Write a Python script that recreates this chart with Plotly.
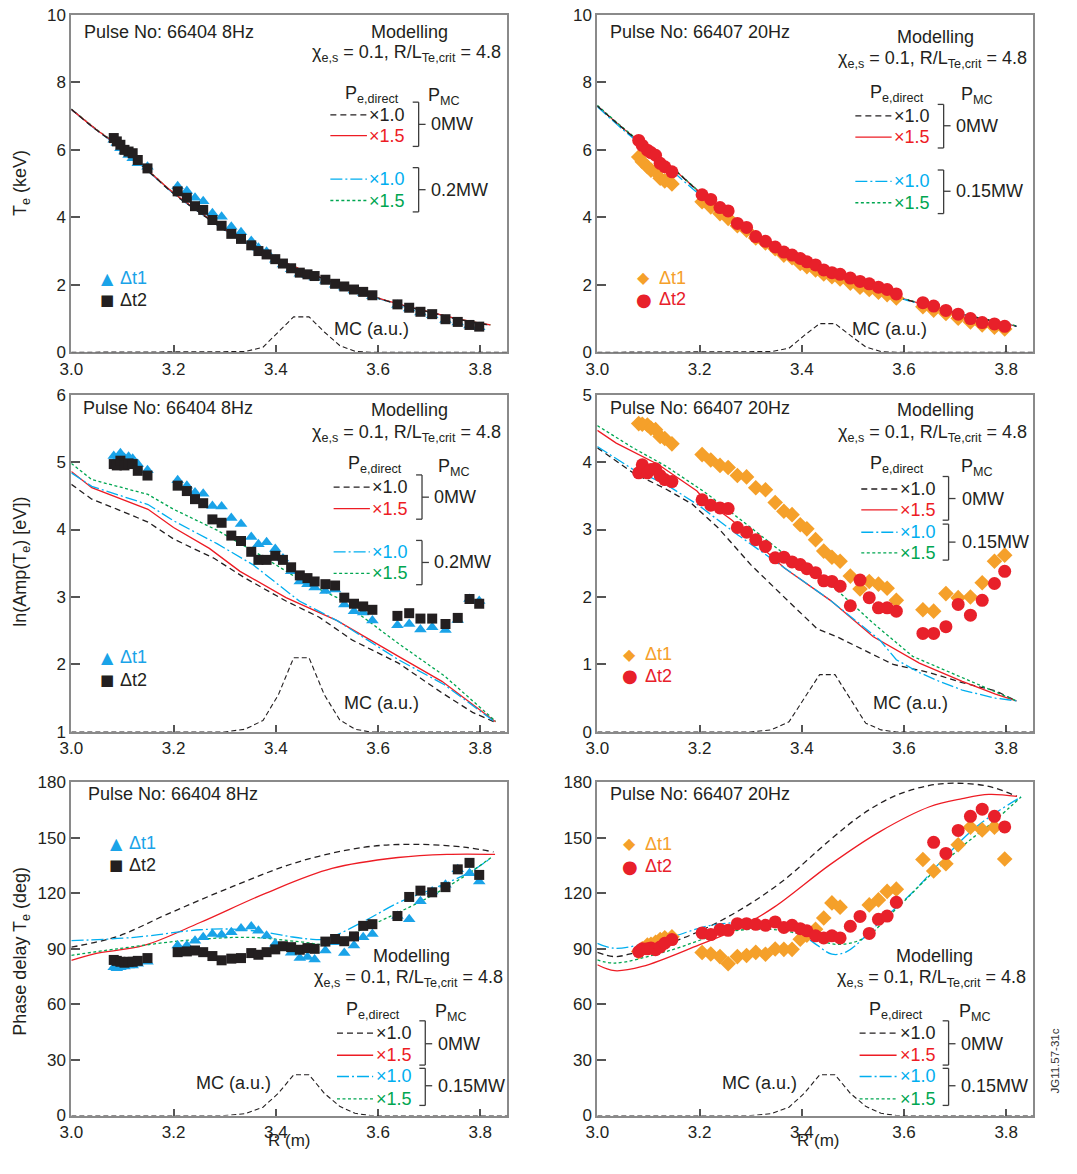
import plotly.graph_objects as go

FONT = "Liberation Sans, Arial, Helvetica, sans-serif"
INK = "#231f20"
BLUE_PTS = "#1aa3e8"
BLACK_PTS = "#231f20"
ORANGE_PTS = "#f5a02a"
RED_PTS = "#e8202a"
RED_LINE = "#ed1c24"
CYAN_LINE = "#00aeef"
GREEN_LINE = "#00a651"

# ---------------- measurement channels (major radius, m) ----------------
R_66404 = [3.083, 3.089, 3.096, 3.104, 3.112, 3.12, 3.13, 3.149, 3.208, 3.226, 3.242, 3.258, 3.276,
           3.294, 3.313, 3.332, 3.352, 3.366, 3.382, 3.399, 3.414, 3.43, 3.447, 3.462, 3.476, 3.497,
           3.516, 3.534, 3.553, 3.571, 3.589, 3.638, 3.661, 3.683, 3.706, 3.732, 3.756, 3.779, 3.798]
R_66407 = [3.081, 3.088, 3.098, 3.105, 3.114, 3.123, 3.132, 3.146, 3.205, 3.222, 3.24, 3.256, 3.274,
           3.292, 3.31, 3.329, 3.348, 3.365, 3.381, 3.397, 3.41, 3.427, 3.443, 3.459, 3.475, 3.495,
           3.514, 3.532, 3.55, 3.567, 3.585, 3.637, 3.658, 3.682, 3.706, 3.73, 3.753, 3.777, 3.797]

# ---------------- Te profiles (keV) ----------------
te_66404_dt1 = [6.3, 6.2, 6.05, 5.95, 5.85, 5.75, 5.6, 5.5, 4.92, 4.78, 4.58, 4.48, 4.12, 4.02, 3.72, 3.56,
                3.3, 3.1, 2.98, 2.74, 2.6, 2.46, 2.33, 2.28, 2.22, 2.12, 2.0, 1.92, 1.83, 1.76, 1.66,
                1.4, 1.3, 1.18, 1.1, 0.96, 0.88, 0.79, 0.74]
te_66404_dt2 = [6.35, 6.25, 6.15, 6.0, 5.95, 5.9, 5.7, 5.45, 4.77, 4.58, 4.33, 4.22, 3.92, 3.75, 3.51, 3.36,
                3.17, 3.0, 2.9, 2.76, 2.63, 2.49, 2.36, 2.31, 2.26, 2.15, 2.03, 1.95, 1.86, 1.79, 1.69,
                1.42, 1.32, 1.2, 1.13, 0.98, 0.9, 0.81, 0.76]
te_66407_dt1 = [5.79, 5.65, 5.5, 5.4, 5.35, 5.16, 5.08, 4.99, 4.46, 4.31, 4.11, 3.97, 3.75, 3.62, 3.39, 3.24,
                3.07, 2.88, 2.8, 2.63, 2.54, 2.44, 2.32, 2.24, 2.17, 2.05, 1.93, 1.86, 1.78, 1.71, 1.61,
                1.35, 1.25, 1.15, 1.01, 0.9, 0.81, 0.74, 0.69]
te_66407_dt2 = [6.28, 6.13, 5.99, 5.92, 5.84, 5.6, 5.5, 5.35, 4.67, 4.53, 4.29, 4.19, 3.82, 3.7, 3.43, 3.29,
                3.12, 2.97, 2.88, 2.78, 2.68, 2.59, 2.44, 2.36, 2.31, 2.2, 2.1, 2.03, 1.93, 1.86, 1.73,
                1.47, 1.37, 1.24, 1.13, 1.0, 0.88, 0.84, 0.77]

R_te_model = [3.0, 3.05, 3.1, 3.15, 3.2, 3.25, 3.3, 3.35, 3.4, 3.45, 3.5, 3.55, 3.6, 3.65, 3.7, 3.75, 3.8, 3.82]
te_404_p0_x10 = [7.2, 6.58, 6.03, 5.38, 4.7, 4.15, 3.62, 3.18, 2.78, 2.44, 2.14, 1.87, 1.6, 1.38, 1.19, 1.0, 0.85, 0.81]
te_404_p0_x15 = [7.2, 6.59, 6.04, 5.39, 4.72, 4.17, 3.64, 3.19, 2.79, 2.45, 2.15, 1.88, 1.61, 1.39, 1.2, 1.01, 0.86, 0.81]
te_404_pmc_x10 = [7.2, 6.58, 6.02, 5.37, 4.7, 4.15, 3.62, 3.18, 2.78, 2.44, 2.14, 1.87, 1.6, 1.38, 1.19, 1.0, 0.85, 0.81]
te_404_pmc_x15 = [7.21, 6.6, 6.05, 5.4, 4.72, 4.17, 3.64, 3.19, 2.79, 2.45, 2.15, 1.88, 1.61, 1.39, 1.2, 1.01, 0.86, 0.81]
te_407_p0_x10 = [7.3, 6.64, 6.02, 5.42, 4.74, 4.17, 3.62, 3.18, 2.76, 2.43, 2.12, 1.85, 1.58, 1.37, 1.18, 1.0, 0.85, 0.77]
te_407_p0_x15 = [7.3, 6.64, 6.03, 5.42, 4.75, 4.18, 3.63, 3.18, 2.77, 2.43, 2.12, 1.85, 1.58, 1.37, 1.18, 1.0, 0.85, 0.77]
te_407_pmc_x10 = [7.28, 6.6, 5.98, 5.33, 4.68, 4.14, 3.6, 3.16, 2.75, 2.42, 2.11, 1.84, 1.57, 1.36, 1.17, 0.99, 0.84, 0.77]
te_407_pmc_x15 = [7.32, 6.66, 6.04, 5.43, 4.76, 4.19, 3.64, 3.19, 2.78, 2.44, 2.13, 1.86, 1.59, 1.38, 1.19, 1.01, 0.86, 0.78]

# ---------------- ln(amplitude) profiles ----------------
amp_66404_dt1 = [5.09, 5.05, 5.13, 5.06, 5.08, 5.05, 4.97, 4.88, 4.73, 4.65, 4.55, 4.53, 4.35, 4.34, 4.17, 4.08,
                 3.89, 3.78, 3.81, 3.71, 3.57, 3.38, 3.23, 3.19, 3.14, 3.09, 3.11, 2.89, 2.79, 2.77, 2.65,
                 2.58, 2.6, 2.52, 2.55, 2.51, 2.66, 2.97, 2.94]
amp_66404_dt2 = [4.97, 4.95, 5.02, 4.95, 4.98, 4.97, 4.87, 4.8, 4.65, 4.57, 4.45, 4.39, 4.15, 4.1, 3.91, 3.83,
                 3.67, 3.55, 3.55, 3.61, 3.55, 3.44, 3.32, 3.28, 3.23, 3.19, 3.17, 2.99, 2.9, 2.86, 2.81,
                 2.72, 2.76, 2.68, 2.68, 2.6, 2.69, 2.97, 2.9]
amp_66407_dt1 = [4.57, 4.56, 4.55, 4.5, 4.48, 4.38, 4.35, 4.27, 4.11, 4.03, 3.95, 3.92, 3.8, 3.78, 3.62, 3.59,
                 3.4, 3.27, 3.22, 3.07, 3.01, 2.85, 2.68, 2.59, 2.53, 2.31, 2.12, 2.23, 2.19, 2.13, 1.95,
                 1.81, 1.79, 2.05, 1.99, 2.0, 2.21, 2.53, 2.62]
amp_66407_dt2 = [3.84, 3.96, 3.84, 3.89, 3.9, 3.8, 3.74, 3.71, 3.44, 3.36, 3.32, 3.31, 3.03, 2.96, 2.85, 2.75,
                 2.58, 2.59, 2.52, 2.48, 2.42, 2.36, 2.24, 2.23, 2.16, 1.87, 2.25, 1.99, 1.84, 1.84, 1.79,
                 1.46, 1.46, 1.56, 1.89, 1.73, 1.95, 2.2, 2.38]

amp_404_p0_x10_R = [3.0, 3.04, 3.09, 3.15, 3.2, 3.28, 3.34, 3.42, 3.485, 3.55, 3.64, 3.725, 3.785, 3.83]
amp_404_p0_x10 = [4.67, 4.45, 4.3, 4.11, 3.86, 3.57, 3.28, 2.94, 2.7, 2.36, 2.02, 1.58, 1.29, 1.14]
amp_404_p0_x15_R = [3.0, 3.04, 3.15, 3.2, 3.27, 3.33, 3.42, 3.52, 3.64, 3.725, 3.83]
amp_404_p0_x15 = [4.86, 4.62, 4.3, 4.03, 3.72, 3.38, 2.99, 2.65, 2.12, 1.75, 1.15]
amp_404_pmc_x10_R = [3.0, 3.04, 3.15, 3.2, 3.285, 3.355, 3.446, 3.52, 3.64, 3.73, 3.83]
amp_404_pmc_x10 = [4.84, 4.64, 4.37, 4.13, 3.79, 3.48, 2.94, 2.65, 2.07, 1.7, 1.14]
amp_404_pmc_x15_R = [3.0, 3.04, 3.15, 3.2, 3.285, 3.37, 3.446, 3.52, 3.64, 3.73, 3.83]
amp_404_pmc_x15 = [4.98, 4.74, 4.52, 4.3, 3.99, 3.62, 3.26, 2.99, 2.31, 1.83, 1.16]

amp_407_p0_x10_R = [3.0, 3.07, 3.134, 3.185, 3.237, 3.3, 3.372, 3.43, 3.469, 3.52, 3.579, 3.65, 3.714, 3.779, 3.82]
amp_407_p0_x10 = [4.21, 3.84, 3.6, 3.38, 3.02, 2.48, 1.95, 1.53, 1.41, 1.22, 1.0, 0.88, 0.73, 0.61, 0.46]
amp_407_p0_x15_R = [3.0, 3.037, 3.12, 3.195, 3.211, 3.263, 3.366, 3.456, 3.54, 3.63, 3.714, 3.779, 3.82]
amp_407_p0_x15 = [4.47, 4.28, 3.96, 3.57, 3.43, 3.14, 2.43, 1.95, 1.41, 1.02, 0.75, 0.56, 0.46]
amp_407_pmc_x10_R = [3.0, 3.07, 3.134, 3.198, 3.275, 3.366, 3.456, 3.553, 3.585, 3.63, 3.669, 3.714, 3.779, 3.82]
amp_407_pmc_x10 = [4.23, 3.89, 3.67, 3.36, 2.92, 2.43, 1.95, 1.36, 1.07, 0.88, 0.75, 0.62, 0.5, 0.46]
amp_407_pmc_x15_R = [3.0, 3.07, 3.134, 3.211, 3.295, 3.392, 3.456, 3.54, 3.617, 3.714, 3.82]
amp_407_pmc_x15 = [4.54, 4.21, 3.94, 3.55, 3.06, 2.48, 2.19, 1.61, 1.12, 0.8, 0.46]

# ---------------- phase delay profiles (deg) ----------------
ph_66404_dt1 = [80, 79.5, 80, 80.5, 81, 81, 82, 83, 91.8, 91.8, 94.4, 96.2, 98.0, 97.6, 98.9, 101.0,
                102.1, 99.8, 97.1, 92.7, 90.9, 87.9, 85.0, 85.6, 84.3, 89.1, 93.5, 87.7, 91.8, 96.2, 98.0,
                107.7, 106.0, 115.7, 121.0, 124.6, 132.9, 130.8, 126.3]
ph_66404_dt2 = [84, 83.5, 83, 82.5, 83, 83, 83.5, 85, 88.2, 88.6, 89.1, 88.2, 86.1, 83.8, 84.7, 85.0,
                87.7, 86.8, 88.2, 89.7, 91.4, 90.9, 89.5, 90.4, 90.0, 93.9, 95.3, 94.1, 96.7, 102.4, 103.3,
                107.7, 118.0, 121.4, 120.5, 123.3, 132.9, 136.4, 129.9]
ph_66407_dt1 = [88.5, 90, 92, 92.5, 93.5, 95, 96, 96.5, 88.0, 87.2, 85.8, 81.9, 85.8, 86.4, 88.1, 87.1,
                89.9, 89.7, 89.7, 95.2, 97.4, 100.6, 106.6, 114.8, 112.5, None, None, 113.7, 116.4, 121.0, 122.2,
                138.2, 132.0, 135.9, 146.2, 155.6, 154.2, 155.6, 138.5]
ph_66407_dt2 = [88.5, 90, 90, 90.5, 89.5, 91, 93, 95, 98.6, 97.7, 100.4, 100.0, 103.6, 103.6, 103.2, 102.7,
                104.5, 101.5, 102.7, 100.9, 99.7, 97.0, 95.9, 97.0, 95.9, 102.2, 107.5, 98.3, 105.9, 107.7, 115.1,
                None, 147.5, 141.5, 153.9, 161.5, 165.4, 161.5, 155.8]

ph_404_p0_x10_R = [3.0, 3.09, 3.187, 3.316, 3.445, 3.574, 3.671, 3.768, 3.826]
ph_404_p0_x10 = [90.9, 96.7, 108.6, 123.7, 137.0, 144.9, 146.4, 144.9, 142.3]
ph_404_p0_x15_R = [3.0, 3.045, 3.142, 3.252, 3.381, 3.51, 3.639, 3.735, 3.829]
ph_404_p0_x15 = [83.8, 87.3, 91.8, 104.2, 120.1, 133.4, 139.3, 141.0, 141.0]
ph_404_pmc_x10_R = [3.0, 3.123, 3.252, 3.316, 3.381, 3.43, 3.465, 3.497, 3.574, 3.639, 3.703, 3.781, 3.819]
ph_404_pmc_x10 = [94.4, 96.2, 100.3, 100.6, 98.9, 96.5, 95.3, 95.3, 105.1, 114.8, 121.9, 131.6, 138.7]
ph_404_pmc_x15_R = [3.0, 3.09, 3.219, 3.348, 3.445, 3.503, 3.574, 3.639, 3.703, 3.768, 3.823]
ph_404_pmc_x15 = [86.5, 90.0, 94.4, 96.2, 93.9, 92.7, 101.2, 109.5, 118.4, 129.0, 139.6]

ph_407_p0_x10_R = [3.0, 3.034, 3.069, 3.166, 3.263, 3.359, 3.456, 3.521, 3.585, 3.65, 3.701, 3.766, 3.821]
ph_407_p0_x10 = [88.1, 85.8, 87.6, 95.6, 108.4, 125.8, 148.9, 163.1, 172.9, 178.2, 179.4, 177.7, 172.3]
ph_407_p0_x15_R = [3.0, 3.034, 3.088, 3.198, 3.275, 3.346, 3.456, 3.553, 3.65, 3.714, 3.766, 3.821]
ph_407_p0_x15 = [81.4, 78.2, 80.5, 92.0, 100.9, 112.5, 135.6, 153.3, 166.7, 171.1, 173.4, 172.3]
ph_407_pmc_x10_R = [3.0, 3.034, 3.134, 3.23, 3.327, 3.392, 3.43, 3.459, 3.488, 3.553, 3.617, 3.682, 3.746, 3.829]
ph_407_pmc_x10 = [92.9, 90.3, 95.6, 103.1, 103.6, 99.1, 92.0, 87.1, 88.5, 104.5, 120.5, 140.0, 156.9, 172.0]
ph_407_pmc_x15_R = [3.0, 3.034, 3.134, 3.263, 3.359, 3.424, 3.469, 3.521, 3.585, 3.65, 3.714, 3.779, 3.829]
ph_407_pmc_x15 = [84.0, 82.3, 88.5, 99.5, 100.0, 95.6, 92.4, 95.6, 111.6, 129.4, 145.3, 159.6, 172.0]

# ---------------- MC deposition profile (arbitrary units) ----------------
R_mc = [3.0, 3.30, 3.34, 3.375, 3.405, 3.435, 3.465, 3.495, 3.525, 3.555, 3.585, 3.853]
mc_te_66404 = [0, 0, 0.02, 0.15, 0.6, 1.05, 1.05, 0.6, 0.2, 0.03, 0, 0]
mc_te_66407 = [0, 0, 0.02, 0.12, 0.5, 0.85, 0.85, 0.5, 0.16, 0.02, 0, 0]
mc_amp_66404 = [1.0, 1.0, 1.04, 1.17, 1.55, 2.1, 2.1, 1.55, 1.18, 1.04, 1.0, 1.0]
mc_amp_66407 = [0, 0, 0.03, 0.15, 0.5, 0.85, 0.85, 0.5, 0.13, 0.03, 0, 0]
mc_ph_66404 = [0, 0, 1.0, 4.5, 12, 22, 22, 12, 5, 1.2, 0, 0]
mc_ph_66407 = [0, 0, 1.0, 4.5, 12, 22, 22, 12, 5, 1.2, 0, 0]

x_ticks = [3.0, 3.2, 3.4, 3.6, 3.8]
x_range = [3.0, 3.853]

# ---------------- figure layout ----------------
# The html page keeps the browser's default 8px body margin, so the figure is
# made 16px smaller than the page and all page positions are shifted by 8px.
PAGE_W, PAGE_H, PAGE_MARGIN = 1077, 1174, 8
W, H = PAGE_W - 2 * PAGE_MARGIN, PAGE_H - 2 * PAGE_MARGIN

# panel boxes in page pixels: left, top, width, height
PANELS = {
    1: (68, 14, 441, 343), 2: (600, 14, 441, 343),
    3: (68, 400, 441, 343), 4: (600, 400, 441, 343),
    5: (68, 794, 441, 339), 6: (600, 794, 441, 339),
}
Y_RANGES = {1: [0, 10], 2: [0, 10], 3: [1, 6], 4: [0, 5], 5: [0, 180], 6: [0, 180]}
Y_TICKS = {1: list(range(0, 11, 2)), 2: list(range(0, 11, 2)), 3: [1, 2, 3, 4, 5, 6],
           4: [0, 1, 2, 3, 4, 5], 5: list(range(0, 181, 30)), 6: list(range(0, 181, 30))}

TXT = 18


def paper_x(px):
    return (px - PAGE_MARGIN) / W


def paper_y(py):
    return 1 - (py - PAGE_MARGIN) / H


def axname(n, a):
    return a if n == 1 else f"{a}{n}"


fig = go.Figure()

axis_style = dict(showline=True, linecolor="#8a8a8a", linewidth=2, mirror=True,
                  ticks="inside", tickwidth=1.5, tickcolor="#555555",
                  showgrid=False, zeroline=False, layer="below traces",
                  tickfont=dict(family=FONT, size=17, color=INK))

for n, (left, top, w, h) in PANELS.items():
    xd = [paper_x(left), paper_x(left + w)]
    yd = [paper_y(top + h), paper_y(top)]
    fig.layout[f"xaxis{'' if n == 1 else n}"] = dict(
        axis_style, domain=xd, range=x_range, tickvals=x_ticks,
        ticktext=[f"{v:.1f}" for v in x_ticks], ticklen=7,
        anchor=axname(n, "y"))
    fig.layout[f"yaxis{'' if n == 1 else n}"] = dict(
        axis_style, domain=yd, range=Y_RANGES[n], tickvals=Y_TICKS[n], ticklen=9,
        anchor=axname(n, "x"))

LINE_STYLES = {
    "p0_x10": dict(color=INK, width=1.3, dash="6px,4px"),
    "p0_x15": dict(color=RED_LINE, width=1.3),
    "pmc_x10": dict(color=CYAN_LINE, width=1.3, dash="12px,3px,2px,3px"),
    "pmc_x15": dict(color=GREEN_LINE, width=1.3, dash="3px,2.5px"),
}


def add_line(n, xs, ys, style, shape="linear"):
    fig.add_trace(go.Scatter(x=xs, y=ys, mode="lines", line=LINE_STYLES[style] if isinstance(style, str) else style,
                             line_shape=shape, xaxis=axname(n, "x"), yaxis=axname(n, "y"),
                             showlegend=False, hoverinfo="skip"))


def add_points(n, xs, ys, symbol, color, size):
    fig.add_trace(go.Scatter(x=xs, y=ys, mode="markers",
                             marker=dict(symbol=symbol, color=color, size=size, line=dict(width=0)),
                             xaxis=axname(n, "x"), yaxis=axname(n, "y"), showlegend=False,
                             cliponaxis=False))


MC_STYLE = dict(color=INK, width=1.1, dash="5px,3px")

# --- panel 1: Te, 66404
add_line(1, R_mc, mc_te_66404, MC_STYLE)
add_line(1, R_te_model, te_404_pmc_x15, "pmc_x15", "spline")
add_line(1, R_te_model, te_404_pmc_x10, "pmc_x10", "spline")
add_line(1, R_te_model, te_404_p0_x15, "p0_x15", "spline")
add_line(1, R_te_model, te_404_p0_x10, "p0_x10", "spline")
add_points(1, R_66404, te_66404_dt1, "triangle-up", BLUE_PTS, 11)
add_points(1, R_66404, te_66404_dt2, "square", BLACK_PTS, 10)

# --- panel 2: Te, 66407
add_line(2, R_mc, mc_te_66407, MC_STYLE)
add_line(2, R_te_model, te_407_p0_x15, "p0_x15", "spline")
add_line(2, R_te_model, te_407_pmc_x15, "pmc_x15", "spline")
add_line(2, R_te_model, te_407_pmc_x10, "pmc_x10", "spline")
add_line(2, R_te_model, te_407_p0_x10, "p0_x10", "spline")
add_points(2, R_66407, te_66407_dt1, "diamond", ORANGE_PTS, 12)
add_points(2, R_66407, te_66407_dt2, "circle", RED_PTS, 13)

# --- panel 3: ln amplitude, 66404
add_line(3, R_mc, mc_amp_66404, MC_STYLE)
add_line(3, amp_404_p0_x10_R, amp_404_p0_x10, "p0_x10")
add_line(3, amp_404_p0_x15_R, amp_404_p0_x15, "p0_x15")
add_line(3, amp_404_pmc_x10_R, amp_404_pmc_x10, "pmc_x10")
add_line(3, amp_404_pmc_x15_R, amp_404_pmc_x15, "pmc_x15")
add_points(3, R_66404, amp_66404_dt1, "triangle-up", BLUE_PTS, 11)
add_points(3, R_66404, amp_66404_dt2, "square", BLACK_PTS, 10)

# --- panel 4: ln amplitude, 66407
add_line(4, R_mc, mc_amp_66407, MC_STYLE)
add_line(4, amp_407_p0_x10_R, amp_407_p0_x10, "p0_x10")
add_line(4, amp_407_p0_x15_R, amp_407_p0_x15, "p0_x15")
add_line(4, amp_407_pmc_x10_R, amp_407_pmc_x10, "pmc_x10")
add_line(4, amp_407_pmc_x15_R, amp_407_pmc_x15, "pmc_x15")
add_points(4, R_66407, amp_66407_dt1, "diamond", ORANGE_PTS, 12)
add_points(4, R_66407, amp_66407_dt2, "circle", RED_PTS, 13)

# --- panel 5: phase delay, 66404
add_line(5, R_mc, mc_ph_66404, MC_STYLE)
add_line(5, ph_404_p0_x10_R, ph_404_p0_x10, "p0_x10", "spline")
add_line(5, ph_404_p0_x15_R, ph_404_p0_x15, "p0_x15", "spline")
add_line(5, ph_404_pmc_x10_R, ph_404_pmc_x10, "pmc_x10", "spline")
add_line(5, ph_404_pmc_x15_R, ph_404_pmc_x15, "pmc_x15", "spline")
add_points(5, R_66404, ph_66404_dt1, "triangle-up", BLUE_PTS, 11)
add_points(5, R_66404, ph_66404_dt2, "square", BLACK_PTS, 10)

# --- panel 6: phase delay, 66407
add_line(6, R_mc, mc_ph_66407, MC_STYLE)
add_line(6, ph_407_p0_x10_R, ph_407_p0_x10, "p0_x10", "spline")
add_line(6, ph_407_p0_x15_R, ph_407_p0_x15, "p0_x15", "spline")
add_line(6, ph_407_pmc_x10_R, ph_407_pmc_x10, "pmc_x10", "spline")
add_line(6, ph_407_pmc_x15_R, ph_407_pmc_x15, "pmc_x15", "spline")
add_points(6, R_66407, ph_66407_dt1, "diamond", ORANGE_PTS, 12)
add_points(6, R_66407, ph_66407_dt2, "circle", RED_PTS, 13)

# ---------------- in-panel keys and labels ----------------
KEY_404 = (("▲", BLUE_PTS, 16, "Δt1", BLUE_PTS), ("■", BLACK_PTS, 15, "Δt2", INK))
KEY_407 = (("◆", ORANGE_PTS, 16, "Δt1", ORANGE_PTS), ("●", RED_PTS, 18, "Δt2", RED_PTS))

# offsets in px from each panel's top-left corner
KEYS = {
    1: dict(pulse=("Pulse No: 66404 8Hz", 11, 17.7), model=(342, 17.7), chi=(437, 39.3),
            pe=(304, 81), pmc=(377, 82.7), rows=(101.7, 122.7, 167, 188.7), line=(262, 299), txt_right=340,
            bracket=351.3, g1=(88.7, 133.7, 111.3), g2=(155.3, 200.3, 177.7), lab_x=362,
            labels=("0MW", "0.2MW"), marks=(36.3, 47, 267.7, 290), mc=(303.7, 319.3), key=KEY_404),
    2: dict(pulse=("Pulse No: 66407 20Hz", 11.3, 17.7), model=(342, 22.7), chi=(437, 45.3),
            pe=(303, 80), pmc=(383.7, 82), rows=(102.7, 124.3, 169.3, 191), line=(261, 297.7), txt_right=338.7,
            bracket=350.3, g1=(91, 135.3, 112.7), g2=(157.7, 202, 179.3), lab_x=361,
            labels=("0MW", "0.15MW"), marks=(47, 60.3, 267, 289.3), mc=(295.3, 319.3), key=KEY_407),
    3: dict(pulse=("Pulse No: 66404 8Hz", 9.7, 14), model=(342, 16), chi=(437, 39.3),
            pe=(307, 70.7), pmc=(387, 74), rows=(94, 116, 160, 181.7), line=(265.3, 302), txt_right=342.7,
            bracket=354.7, g1=(81.7, 126.7, 104.3), g2=(148.3, 193.3, 170.7), lab_x=365.3,
            labels=("0MW", "0.2MW"), marks=(36.3, 47, 267.3, 290), mc=(313.7, 313.3), key=KEY_404),
    4: dict(pulse=("Pulse No: 66407 20Hz", 11.3, 14), model=(342, 16), chi=(437, 39.3),
            pe=(303, 70.7), pmc=(383.7, 74), rows=(96, 117.3, 140, 161), line=(267, 303.7), txt_right=344.3,
            bracket=355.3, g1=(83.3, 127.7, 105.7), g2=(131.7, 168.3, 150), lab_x=367,
            labels=("0MW", "0.15MW"), marks=(33, 46.3, 264, 286), mc=(317, 313.3), key=KEY_407),
    5: dict(pulse=("Pulse No: 66404 8Hz", 15.3, 12), model=(343.7, 176.7), chi=(438.7, 199.3),
            pe=(304.7, 232.7), pmc=(384.3, 234.3), rows=(255.3, 277.7, 299.3, 322), line=(268.7, 305.3),
            txt_right=347, bracket=358, g1=(242.7, 287.7, 266), g2=(291, 328.7, 308.7), lab_x=368.7,
            labels=("0MW", "0.15MW"), marks=(45.3, 56, 62, 84.7), mc=(163.7, 306), key=KEY_404),
    6: dict(pulse=("Pulse No: 66407 20Hz", 11.3, 12), model=(341, 176.7), chi=(436, 199.3),
            pe=(302, 232.7), pmc=(382, 234.3), rows=(255.3, 277.7, 299.3, 322), line=(265.3, 302.7),
            txt_right=344.3, bracket=355.3, g1=(242.7, 287.7, 266), g2=(291, 328.7, 308.7), lab_x=366,
            labels=("0MW", "0.15MW"), marks=(33, 46.3, 62.7, 85.3), mc=(163.7, 306), key=KEY_407),
}

ROW_STYLES = [("×1.0", "p0_x10", INK), ("×1.5", "p0_x15", RED_LINE),
              ("×1.0", "pmc_x10", CYAN_LINE), ("×1.5", "pmc_x15", GREEN_LINE)]

for n, k in KEYS.items():
    _, _, w, h = PANELS[n]
    xr, yr = f"{axname(n, 'x')} domain", f"{axname(n, 'y')} domain"

    def fx(px):
        return px / w

    def fy(py):
        return 1 - py / h

    def text(t, px, py, xanchor="left", color=INK, size=TXT, family=FONT):
        fig.add_annotation(text=t, x=fx(px), y=fy(py), xref=xr, yref=yr, xanchor=xanchor,
                           yanchor="middle", showarrow=False,
                           font=dict(family=family, size=size, color=color))

    def seg(x0, y0, x1, y1, line):
        fig.add_shape(type="line", x0=fx(x0), y0=fy(y0), x1=fx(x1), y1=fy(y1),
                      xref=xr, yref=yr, line=line, layer="above")

    t, px, py = k["pulse"]
    text(t, px, py)
    text("Modelling", *k["model"], xanchor="center")
    text("χ<sub>e,s</sub> = 0.1, R/L<sub>Te,crit</sub> = 4.8", *k["chi"], xanchor="right")
    text("P<sub>e,direct</sub>", *k["pe"], xanchor="center")
    text("P<sub>MC</sub>", *k["pmc"], xanchor="center")
    for (label, style, color), ry in zip(ROW_STYLES, k["rows"]):
        seg(k["line"][0], ry, k["line"][1], ry, LINE_STYLES[style])
        text(label, k["txt_right"], ry, xanchor="right", color=color)
    bx = k["bracket"]
    bline = dict(color="#3d3d3d", width=1.3)
    for (gt, gb, gm), lab in zip((k["g1"], k["g2"]), k["labels"]):
        seg(bx, gt, bx, gb, bline)
        seg(bx - 6, gt, bx, gt, bline)
        seg(bx - 6, gb, bx, gb, bline)
        seg(bx, gm, bx + 7, gm, bline)
        text(lab, k["lab_x"], gm)
    mx, tx, y1, y2 = k["marks"]
    for (glyph, gcol, gsize, lab, tcol), my in zip(k["key"], (y1, y2)):
        text(glyph, mx, my, xanchor="center", color=gcol, size=gsize, family="DejaVu Sans")
        text(lab, tx, my, color=tcol)
    text("MC (a.u.)", *k["mc"], xanchor="center")

# axis titles (page pixel positions)
for t, px, py, ang, size in [("T<sub>e</sub> (keV)", 17, 185, -90, TXT),
                             ("ln(Amp(T<sub>e</sub>) [eV])", 18, 570, -90, TXT),
                             ("Phase delay T<sub>e</sub> (deg)", 17.5, 966, -90, TXT),
                             ("R (m)", 288, 1158, 0, 17), ("R (m)", 823, 1158, 0, 17)]:
    fig.add_annotation(text=t, x=paper_x(px), y=paper_y(py), xref="paper", yref="paper",
                       xanchor="center", yanchor="middle", textangle=ang, showarrow=False,
                       font=dict(family=FONT, size=size, color=INK))

fig.add_annotation(text="JG11.57-31c", x=paper_x(1063), y=paper_y(1078), xref="paper", yref="paper",
                   xanchor="center", yanchor="middle", textangle=-90, showarrow=False,
                   font=dict(family=FONT, size=11.5, color="#333333"))

fig.update_layout(width=W, height=H, margin=dict(l=0, r=0, t=0, b=0),
                  paper_bgcolor="white", plot_bgcolor="white", showlegend=False,
                  font=dict(family=FONT, color=INK))

fig.write_html("out.html")
